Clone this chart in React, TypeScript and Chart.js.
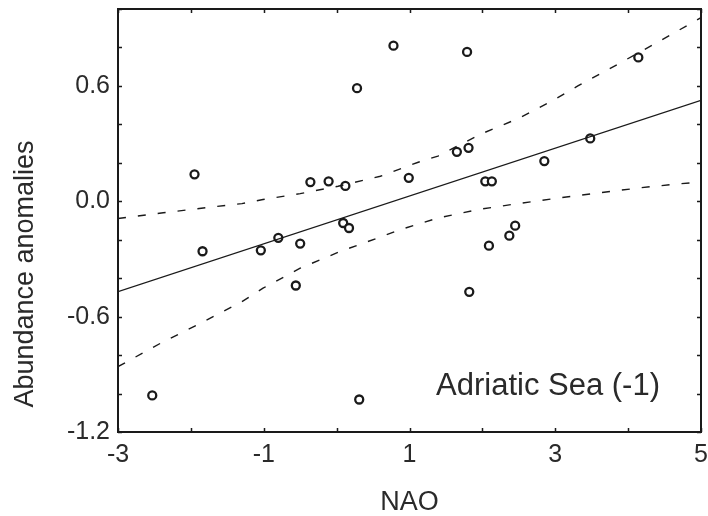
import React, { useEffect, useRef } from "react";
import { Chart, registerables } from "chart.js";

Chart.register(...registerables);

// Observations (NAO index vs abundance anomaly)
const nao = [
  -2.53, -1.95, -1.84, -1.04, -0.8, -0.56, -0.5, -0.36, -0.11, 0.09, 0.12, 0.17,
  0.28, 0.31, 0.78, 0.99, 1.65, 1.79, 1.81, 1.82, 2.04, 2.09, 2.13, 2.37, 2.45,
  2.85, 3.48, 4.14,
];
const abundance = [
  -1.01, 0.14, -0.26, -0.255, -0.19, -0.438, -0.22, 0.1, 0.104, -0.113, 0.08, -0.139,
  0.588, -1.031, 0.809, 0.122, 0.257, 0.777, 0.278, -0.471, 0.104, -0.231, 0.104,
  -0.179, -0.127, 0.209, 0.327, 0.748,
];

// Regression line
const fitX = [-3, 5];
const fitY = [-0.47, 0.525];

// Confidence band (upper / lower)
const upperX = [-3, -2.38, -1.83, -1.3, -1.01, -0.5, 0.02, 0.6, 1.12, 1.39, 1.97, 2.49, 2.97, 3.31, 3.86, 4.4, 5];
const upperY = [-0.09, -0.06, -0.035, -0.012, 0.009, 0.04, 0.078, 0.13, 0.203, 0.235, 0.348, 0.43, 0.525, 0.6, 0.713, 0.826, 0.955];
const lowerX = [-3, -2.4, -1.85, -1.3, -1.01, -0.5, 0.05, 0.6, 0.87, 1.39, 1.94, 2.49, 3.04, 3.59, 4.14, 4.67, 5];
const lowerY = [-0.86, -0.735, -0.631, -0.522, -0.452, -0.348, -0.261, -0.186, -0.148, -0.087, -0.043, -0.012, 0.017, 0.043, 0.069, 0.09, 0.1];

const xTickLabels = [-3, -1, 1, 3, 5];
const yTickLabels = ["-1.2", "-0.6", "0.0", "0.6"];

const xTitle = "NAO";
const yTitle = "Abundance anomalies";
const note = "Adriatic Sea (-1)";

const FONT = "'Liberation Sans', Arial, sans-serif";
const INK = "#1a1a1a";

const pts = (xs: number[], ys: number[]) => xs.map((x, i) => ({ x, y: ys[i] }));

const framePlugin = {
  id: "frameAndText",
  afterDraw(chart: any) {
    const { ctx, chartArea: a, scales } = chart;
    const xs = scales.x;
    const ys = scales.y;
    ctx.save();
    ctx.strokeStyle = INK;
    ctx.lineWidth = 2;
    ctx.strokeRect(a.left, a.top, a.right - a.left, a.bottom - a.top);
    ctx.lineWidth = 1.5;
    const tl = 4;
    ctx.beginPath();
    xs.ticks.forEach((t: any) => {
      const px = Math.round(xs.getPixelForValue(t.value)) + 0.5;
      ctx.moveTo(px, a.bottom);
      ctx.lineTo(px, a.bottom - tl);
      ctx.moveTo(px, a.top);
      ctx.lineTo(px, a.top + tl);
    });
    ys.ticks.forEach((t: any) => {
      const py = Math.round(ys.getPixelForValue(t.value)) + 0.5;
      ctx.moveTo(a.left, py);
      ctx.lineTo(a.left + tl, py);
      ctx.moveTo(a.right, py);
      ctx.lineTo(a.right - tl, py);
    });
    ctx.stroke();

    ctx.fillStyle = "#2a2a2a";
    ctx.font = `27px ${FONT}`;
    ctx.textAlign = "center";
    ctx.textBaseline = "middle";
    ctx.fillText(xTitle, (a.left + a.right) / 2, 503);

    ctx.save();
    ctx.translate(26, 274);
    ctx.rotate(-Math.PI / 2);
    ctx.fillText(yTitle, 0, 0);
    ctx.restore();

    ctx.font = `31px ${FONT}`;
    ctx.textAlign = "right";
    ctx.textBaseline = "alphabetic";
    ctx.fillText(note, a.right - 41, a.bottom - 37);
    ctx.restore();
  },
};

export default function App() {
  const ref = useRef<HTMLCanvasElement>(null);

  useEffect(() => {
    document.body.style.margin = "0";
    const canvas = ref.current;
    if (!canvas) return;
    const lineStyle = {
      showLine: true,
      pointRadius: 0,
      borderColor: INK,
      borderWidth: 1.4,
      fill: false,
      tension: 0,
    };
    const chart = new Chart(canvas, {
      type: "scatter",
      data: {
        datasets: [
          { ...lineStyle, data: pts(upperX, upperY), borderDash: [8, 12] } as any,
          { ...lineStyle, data: pts(lowerX, lowerY), borderDash: [8, 12] } as any,
          { ...lineStyle, data: pts(fitX, fitY) } as any,
          {
            data: pts(nao, abundance),
            pointRadius: 4,
            pointBorderWidth: 2.3,
            pointBackgroundColor: "#ffffff",
            pointBorderColor: INK,
            showLine: false,
          } as any,
        ],
      },
      options: {
        responsive: false,
        animation: false,
        layout: { padding: { top: 9, right: 7, left: 0, bottom: 0 } },
        plugins: { legend: { display: false }, tooltip: { enabled: false } },
        scales: {
          x: {
            type: "linear",
            min: -3,
            max: 5,
            grid: { display: false },
            border: { display: false },
            afterFit: (s: any) => {
              s.height = 84;
              s.paddingLeft = 0;
              s.paddingRight = 0;
            },
            ticks: {
              stepSize: 1,
              autoSkip: false,
              maxRotation: 0,
              padding: 0,
              color: "#2a2a2a",
              font: { size: 25, family: FONT },
              callback: (v: any) => {
                const n = Math.round(Number(v));
                return xTickLabels.includes(n) ? String(n) : "";
              },
            },
          },
          y: {
            type: "linear",
            min: -1.2,
            max: 1.0,
            grid: { display: false },
            border: { display: false },
            afterFit: (s: any) => {
              s.width = 118;
              s.paddingTop = 0;
              s.paddingBottom = 0;
            },
            ticks: {
              stepSize: 0.2,
              autoSkip: false,
              padding: 0,
              color: "#2a2a2a",
              font: { size: 25, family: FONT },
              callback: (v: any) => {
                const s = (Math.round(Number(v) * 10) / 10).toFixed(1).replace("-0.0", "0.0");
                return yTickLabels.includes(s) ? s : "";
              },
            },
          },
        },
      },
      plugins: [framePlugin],
    });
    return () => chart.destroy();
  }, []);

  return (
    <div style={{ width: 708, height: 516, background: "#fff" }}>
      <canvas ref={ref} width={708} height={516} style={{ display: "block" }} />
    </div>
  );
}
